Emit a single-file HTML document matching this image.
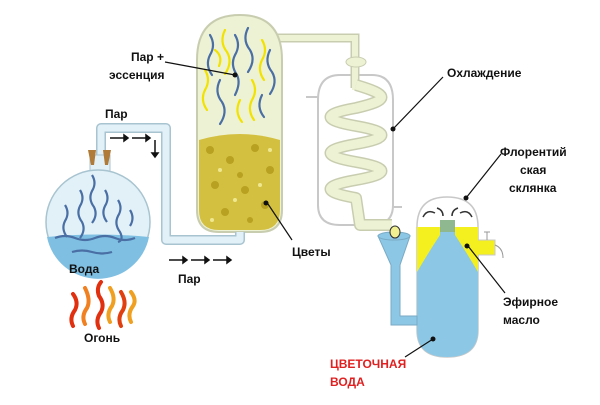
<!DOCTYPE html>
<html><head><meta charset="utf-8"><style>
body{margin:0;background:#fff}
text{font-family:"Liberation Sans","DejaVu Sans",sans-serif;font-weight:bold;font-size:12px;fill:#111}
</style></head><body>
<svg width="600" height="400" viewBox="0 0 600 400" xmlns="http://www.w3.org/2000/svg">
<!-- condenser -->
<path d="M318 100 Q318 75 340 75 L372 75 Q393 75 393 100 L393 205 Q393 225 372 225 L340 225 Q318 225 318 205 Z" fill="#fff" stroke="#c8c8c8" stroke-width="2"/>
<line x1="306" y1="97" x2="318" y2="97" stroke="#c8c8c8" stroke-width="2"/>
<line x1="393" y1="207" x2="402" y2="207" stroke="#c8c8c8" stroke-width="2"/>
<!-- pipe column->condenser -->
<path d="M275 38 L355 38 L355 88" fill="none" stroke="#c9cdb0" stroke-width="9"/>
<path d="M275 38 L355 38 L355 90" fill="none" stroke="#eef2d4" stroke-width="6"/>
<ellipse cx="356" cy="62" rx="10" ry="5" fill="#eef2d4" stroke="#c9cdb0"/>
<!-- coil -->
<path d="M356 85 C390 95 390 100 356 108 C322 114 322 120 356 126 C390 132 390 138 356 144 C322 150 322 156 356 162 C390 168 390 174 356 180 C322 186 322 192 356 198 L360 225 L392 225" fill="none" stroke="#c9cdb0" stroke-width="12" stroke-linejoin="round"/>
<path d="M356 85 C390 95 390 100 356 108 C322 114 322 120 356 126 C390 132 390 138 356 144 C322 150 322 156 356 162 C390 168 390 174 356 180 C322 186 322 192 356 198 L360 225 L392 225" fill="none" stroke="#eef2d4" stroke-width="9" stroke-linejoin="round"/>
<!-- column -->
<path d="M197 60 Q197 15 240 15 Q282 15 282 60 L282 210 Q282 232 260 232 L219 232 Q197 232 197 210 Z" fill="#eef2d4" stroke="#c9cdb0" stroke-width="2"/>
<g stroke-width="2.2" fill="none" stroke-linecap="round">
<path d="M210 35 q6 10 0 20 q-5 10 2 20" stroke="#4a6fa5"/><path d="M225 30 q-6 12 2 22 q6 10 -2 22" stroke="#f2e200"/>
<path d="M235 35 q6 10 0 20 q-5 10 2 20 q4 8 -2 20" stroke="#4a6fa5"/><path d="M248 28 q-6 12 2 22 q6 10 -2 22" stroke="#4a6fa5"/>
<path d="M262 40 q6 10 0 20 q-5 10 2 20" stroke="#f2e200"/><path d="M270 50 q-6 12 2 22 q6 10 -2 22" stroke="#4a6fa5"/>
<path d="M205 70 q6 10 0 20 q-5 10 2 20" stroke="#f2e200"/><path d="M220 80 q-6 12 2 22 q6 10 -2 22" stroke="#4a6fa5"/>
<path d="M252 80 q6 10 0 20 q-5 10 2 20" stroke="#f2e200"/><path d="M262 95 q-6 12 2 22" stroke="#4a6fa5"/>
<path d="M240 100 q-6 12 2 22" stroke="#f2e200"/><path d="M215 50 q8 6 4 16" stroke="#f2e200"/>
</g>
<path d="M199 140 Q240 128 280 140 L280 210 Q280 230 260 230 L219 230 Q199 230 199 210 Z" fill="#d4c040"/>
<g fill="#b8a020">
<circle cx="210" cy="150" r="4"/><circle cx="230" cy="160" r="4"/><circle cx="255" cy="148" r="4"/><circle cx="270" cy="170" r="4"/><circle cx="215" cy="185" r="4"/><circle cx="245" cy="190" r="4"/><circle cx="265" cy="205" r="4"/><circle cx="225" cy="212" r="4"/><circle cx="240" cy="175" r="3"/><circle cx="250" cy="220" r="3"/>
</g>
<g fill="#f0e890"><circle cx="220" cy="170" r="2"/><circle cx="260" cy="185" r="2"/><circle cx="235" cy="200" r="2"/><circle cx="212" cy="220" r="2"/><circle cx="270" cy="150" r="2"/></g>
<!-- blue pipe flask->column -->
<path d="M101 155 L101 128 L166 128 L166 240 L240 240 L240 232" fill="none" stroke="#a8c4d0" stroke-width="10" stroke-linejoin="round"/>
<path d="M101 155 L101 128 L166 128 L166 240 L240 240 L240 232" fill="none" stroke="#e2f1f8" stroke-width="7" stroke-linejoin="round"/>
<!-- flask -->
<rect x="90" y="155" width="20" height="25" fill="#e2f1f8" stroke="#a8c4d0"/>
<circle cx="98" cy="222" r="52" fill="#e2f1f8" stroke="#a8c4d0" stroke-width="1.5"/>
<path d="M47 237 Q98 232 149 237 A52 52 0 0 1 47 237 Z" fill="#7fbfe2"/>
<path d="M88 150 L96 150 L94 165 L91 165 Z M103 150 L111 150 L108 165 L105 165 Z" fill="#b07a38"/>
<g stroke="#4a6fa5" stroke-width="2.2" fill="none">
<path d="M65 205 q5 8 0 16 q-4 8 2 16"/><path d="M80 190 q5 8 0 16 q-4 8 2 16 q4 8 -2 16"/><path d="M92 175 q5 8 0 16 q-4 8 2 16 q4 8 -2 16"/><path d="M105 190 q5 8 0 16 q-4 8 2 16"/><path d="M118 200 q5 8 0 16 q-4 8 2 16 q4 8 -2 10"/><path d="M130 210 q5 8 0 16"/>
<path d="M55 238 q10 -4 20 0 q10 4 20 0 q10 -4 20 0 q10 4 20 0" /><path d="M72 252 q10 -3 20 0 q10 3 20 0"/>
</g>
<!-- fire -->
<g stroke-width="4" fill="none" stroke-linecap="round">
<path d="M73 326 q-4 -8 2 -16 q4 -8 -2 -16" stroke="#e03010"/><path d="M85 324 q-4 -8 2 -16 q4 -8 -2 -20" stroke="#f08020"/>
<path d="M99 328 q-4 -8 2 -16 q4 -8 -2 -16 q-3 -8 2 -14" stroke="#e03010"/><path d="M110 322 q-4 -8 2 -16 q4 -8 -2 -18" stroke="#f0a020"/>
<path d="M121 326 q-4 -8 2 -16 q4 -8 -2 -18" stroke="#e04010"/><path d="M131 322 q-4 -8 2 -16 q4 -6 -2 -14" stroke="#f0a020"/>
</g>
<!-- florentine flask -->
<path d="M417 227 Q417 197 447 197 Q478 197 478 227 L478 330 Q478 357 447 357 Q417 357 417 330 Z" fill="#fff" stroke="#c8c8c8" stroke-width="1.5"/>
<path d="M417 227 L478 227 L478 330 Q478 357 447 357 Q417 357 417 330 Z" fill="#8cc8e6"/>
<path d="M417 227 L440 227 L440 235 Q430 250 417 272 Z M478 227 L455 227 L455 235 Q465 250 478 272 Z" fill="#f4f020"/>
<rect x="440" y="220" width="15" height="12" fill="#90b890"/>
<path d="M478 240 L495 240 L495 255 L478 255" fill="#f4f020" stroke="#c8c8c8"/>
<path d="M487 232 L487 240 M484 232 L490 232 M495 245 Q503 248 503 258" stroke="#999" fill="none"/>
<path d="M435 213 q-8 -4 -12 4 M460 213 q8 -4 12 4 M443 216 q0 -6 -6 -8 M452 216 q0 -6 6 -8" stroke="#333" fill="none" stroke-width="1.5"/>
<!-- funnel -->
<path d="M378 236 L410 236 L400 265 L400 316 L417 316 L417 325 L391 325 L391 265 Z" fill="#8cc8e6" stroke="#7aaac4"/>
<ellipse cx="394" cy="236" rx="16" ry="4" fill="#8cc8e6" stroke="#7aaac4"/>
<ellipse cx="395" cy="232" rx="5" ry="6" fill="#f0f090" stroke="#333"/>
<!-- arrows -->
<g stroke="#111" stroke-width="1.5" fill="#111">
<path d="M110 138 L124 138 M132 138 L146 138 M155 140 L155 153"/><path d="M124 135 L128 138 L124 141 Z M146 135 L150 138 L146 141 Z M152 153 L155 157 L158 153 Z"/>
<path d="M169 260 L183 260 M191 260 L205 260 M213 260 L227 260"/><path d="M183 257 L187 260 L183 263 Z M205 257 L209 260 L205 263 Z M227 257 L231 260 L227 263 Z"/>
</g>
<!-- leader lines -->
<g stroke="#111" stroke-width="1.2">
<line x1="165" y1="62" x2="235" y2="75"/><line x1="268" y1="204" x2="292" y2="240"/>
<line x1="443" y1="77" x2="393" y2="129"/><line x1="501" y1="154" x2="466" y2="198"/>
<line x1="468" y1="246" x2="505" y2="293"/><line x1="433" y1="339" x2="405" y2="357"/>
</g>
<g fill="#111"><circle cx="235" cy="75" r="2.5"/><circle cx="266" cy="203" r="2.5"/><circle cx="393" cy="129" r="2.5"/><circle cx="466" cy="198" r="2.5"/><circle cx="467" cy="246" r="2.5"/><circle cx="433" cy="339" r="2.5"/></g>
<!-- labels -->
<text x="131" y="61">Пар +</text><text x="109" y="79">эссенция</text>
<text x="105" y="118">Пар</text><text x="178" y="283">Пар</text>
<text x="69" y="273">Вода</text><text x="84" y="342">Огонь</text>
<text x="292" y="256">Цветы</text><text x="447" y="77">Охлаждение</text>
<text x="500" y="156">Флорентий</text><text x="520" y="174">ская</text><text x="509" y="192">склянка</text>
<text x="503" y="306">Эфирное</text><text x="503" y="324">масло</text>
<text x="330" y="368" style="fill:#e02020">ЦВЕТОЧНАЯ</text><text x="330" y="386" style="fill:#e02020">ВОДА</text>
</svg>
</body></html>
